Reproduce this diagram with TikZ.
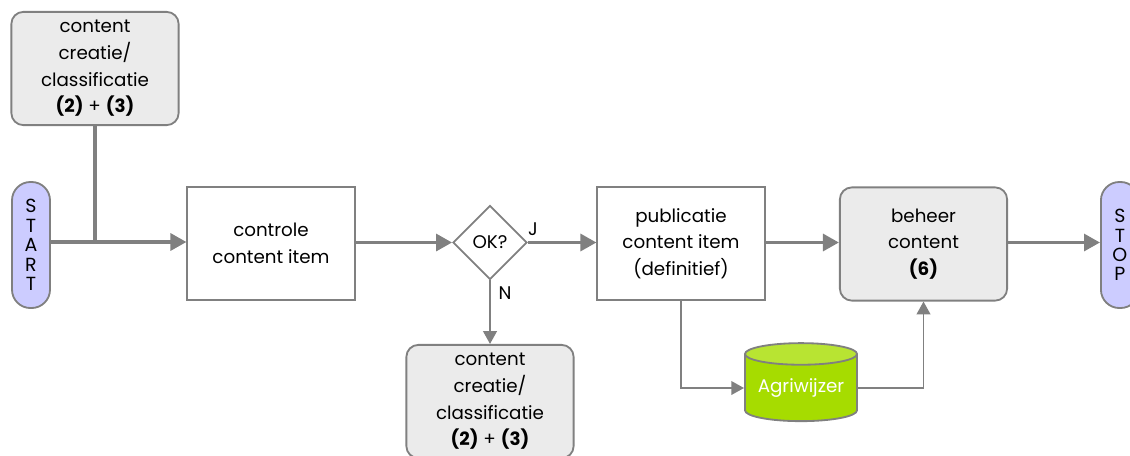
\documentclass[tikz,border=0pt]{standalone}
\usepackage{fontspec}
\setmainfont{Poppins}
\usetikzlibrary{shapes.geometric,arrows.meta}
\definecolor{lijngrijs}{RGB}{128,128,128}
\definecolor{vakgrijs}{RGB}{235,235,235}
\definecolor{lila}{RGB}{204,204,255}
\definecolor{agrigroen}{RGB}{166,220,0}
\definecolor{agrilicht}{RGB}{184,228,50}
\begin{document}
\begin{tikzpicture}
[x = {(0.025cm,0cm)},
y = {(0cm,-0.025cm)},
tekst/.style = {font=\fontsize{13}{19}\selectfont, align=center, text=black},
stapvak/.style = {tekst, draw=lijngrijs, line width=1.3pt, fill=white, minimum width=4.18cm, minimum height=2.83cm, inner sep=0pt},
subvak/.style = {stapvak, fill=vakgrijs, rounded corners=0.3cm},
eindpunt/.style = {tekst, font=\fontsize{13.5}{13.8}\selectfont, draw=lijngrijs, line width=1.3pt, fill=lila, rounded corners=0.46cm, minimum width=0.95cm, minimum height=3.15cm, inner sep=0pt},
keuze/.style = {tekst, diamond, draw=lijngrijs, line width=1.3pt, minimum width=1.85cm, minimum height=1.85cm, inner sep=0pt},
dik/.style = {draw=lijngrijs, line width=2.6pt, -{Triangle[length=0.4cm,width=0.42cm]}},
dun/.style = {draw=lijngrijs, line width=1.4pt, -{Triangle[length=0.32cm,width=0.34cm]}},
opslag/.style = {tekst, cylinder, shape border rotate=90, aspect=0.25, draw=lijngrijs, line width=1.3pt, cylinder uses custom fill, cylinder body fill=agrigroen, cylinder end fill=agrilicht, minimum width=2.8cm, minimum height=1.95cm, inner sep=0pt, text=white}]
\useasboundingbox (0,0) rectangle (1130,455);

\node[subvak] (creatieboven) at (95,68.5) {content\\creatie/\\classificatie\\\textbf{(2)} + \textbf{(3)}};
\node[eindpunt] (start) at (31,245) {S\\T\\A\\R\\T};
\node[stapvak] (controle) at (271,243.5) {controle\\content item};
\node[keuze] (ok) at (490,242.5) {OK?};
\node[stapvak] (publicatie) at (681,243.5) {publicatie\\content item\\(definitief)};
\node[subvak] (beheer) at (923.5,244) {beheer\\content\\\textbf{(6)}};
\node[eindpunt, anchor=west] (stop) at (1100,245) {S\\T\\O\\P};
\node[subvak] (creatieonder) at (490,401.5) {content\\creatie/\\classificatie\\\textbf{(2)} + \textbf{(3)}};
\node[opslag] (agriwijzer) at (801,388) {Agriwijzer};

\coordinate (samen) at (creatieboven.south |- 0,242);
\draw[draw=lijngrijs, line width=2.6pt] (creatieboven.south) -- (samen);
\draw[dik] (start.east |- samen) -- (controle.west |- samen);
\draw[dik] (controle.east |- ok.west) -- (ok.west);
\draw[dik] (ok.east) -- (publicatie.west |- ok.east);
\draw[dik] (publicatie.east |- ok.east) -- (beheer.west |- ok.east);
\draw[dik] (beheer.east |- ok.east) -- (stop.west |- ok.east);
\draw[dun] (ok.south) -- (creatieonder.north);
\draw[dun] (publicatie.south) |- (agriwijzer.west);
\draw[dun] (agriwijzer.east) -| (beheer.south);

\node[tekst] (ja) at (533,229) {J};
\node[tekst] (nee) at (505,293) {N};
\end{tikzpicture}
\end{document}
